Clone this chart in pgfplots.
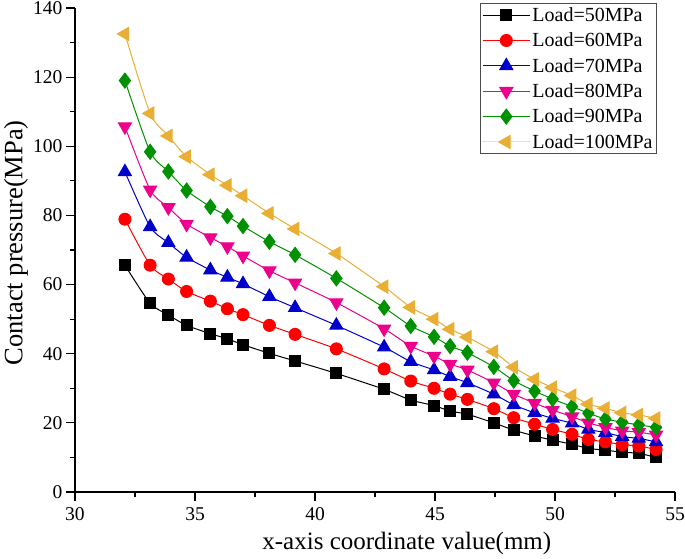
\documentclass[border=0pt]{standalone}
\usepackage{pgfplots}
\pgfplotsset{compat=1.18}
\usepackage{pgfplotstable}
\usepackage{fontspec}
\setmainfont{Liberation Serif}
\definecolor{cblue}{RGB}{0,0,205}
\definecolor{cgreen}{RGB}{0,145,0}
\definecolor{corange}{RGB}{232,175,52}
\pgfplotstableread{
x     a     b     c     d     e     f
32.08 65.6  78.9  92.6  105.7 119.0 132.5
33.13 54.6  65.6  76.7  87.4  98.4  109.5
33.89 51.2  61.6  72.1  82.3  92.7  103.0
34.65 48.2  58.0  67.9  77.5  87.2  97.0
35.64 45.8  55.2  64.2  73.6  82.5  91.8
36.35 44.3  53.0  62.1  71.0  79.8  88.7
37.00 42.6  51.3  60.2  68.3  76.9  85.7
38.10 40.1  48.2  56.5  64.0  72.4  80.6
39.17 37.9  45.6  53.3  60.5  68.6  76.1
40.89 34.3  41.4  48.2  54.8  61.8  69.0
42.88 29.7  35.6  41.9  47.2  53.3  59.4
43.99 26.6  32.1  37.7  42.2  48.0  53.4
44.96 25.0  30.0  35.3  39.3  44.9  50.0
45.63 23.4  28.3  33.4  37.0  42.2  47.1
46.35 22.5  26.8  31.6  35.3  40.3  44.8
47.45 20.0  24.1  28.3  31.6  36.2  40.6
48.28 17.9  21.5  25.2  28.3  32.2  36.1
49.15 16.2  19.6  22.9  25.7  29.2  32.6
49.90 15.0  18.1  21.3  23.7  26.9  30.2
50.71 13.8  16.7  19.9  21.8  24.7  27.9
51.39 12.6  15.2  18.1  20.0  22.8  25.4
52.10 12.1  14.5  17.2  18.7  21.1  24.2
52.80 11.5  13.7  16.0  17.7  20.2  22.9
53.49 11.2  13.3  15.5  17.3  19.4  22.3
54.21 10.0  12.3  14.5  16.5  18.7  21.3
}\data
\begin{document}
\begin{tikzpicture}
\begin{axis}[
  at={(0,0)}, anchor=south west,
  scale only axis, width=600pt, height=484pt,
  xmin=30, xmax=55, ymin=0, ymax=140,
  axis lines=left, axis line style={line width=1.2pt,-},
  xtick={30,35,...,55}, ytick={0,20,...,140},
  minor x tick num=1, minor y tick num=1,
  tick align=outside, tick style={line width=1.2pt, black},
  major tick length=9pt, minor tick length=5pt,
  /pgf/number format/assume math mode=true,
  ticklabel style={font=\fontsize{19.5}{23}\selectfont},
  xticklabel style={yshift=-3pt},
  xlabel={x-axis coordinate value(mm)},
  ylabel={Contact pressure(MPa)},
  xlabel style={font=\fontsize{25}{29}\selectfont, at={(axis description cs:0.553,-0.1064)}, anchor=center},
  ylabel style={font=\fontsize{26.5}{30}\selectfont, at={(axis description cs:-0.0985,0.515)}, anchor=center},
  legend style={at={(0.97,1.0103)}, anchor=north east, draw=black!70, line width=0.8pt,
    font=\fontsize{20}{24}\selectfont, row sep=6pt, inner sep=2pt},
  legend cell align=left,
  legend image code/.code={
    \draw[mark repeat=2,mark phase=2] plot coordinates {(0cm,0cm) (0.83cm,0cm) (1.66cm,0cm)};},
  every axis plot/.append style={line width=1pt, smooth, tension=0.4},
]
\addplot[black, mark=square*, mark size=5.5pt, mark options={solid}] table[x=x,y=a]{\data};
\addlegendentry{Load=50MPa}
\addplot[red, mark=*, mark size=6pt] table[x=x,y=b]{\data};
\addlegendentry{Load=60MPa}
\addplot[cblue, mark=triangle*, mark size=7.5pt] table[x=x,y=c]{\data};
\addlegendentry{Load=70MPa}
\addplot[magenta, mark=triangle*, mark size=7.5pt, mark options={rotate=180}] table[x=x,y=d]{\data};
\addlegendentry{Load=80MPa}
\addplot[cgreen, mark=diamond*, mark size=7.5pt] table[x=x,y=e]{\data};
\addlegendentry{Load=90MPa}
\addplot[corange, mark=triangle*, mark size=7.5pt, mark options={rotate=90}] table[x=x,y=f]{\data};
\addlegendentry{Load=100MPa}
\end{axis}
\pgfresetboundingbox
\path[use as bounding box] (-75pt,-66pt) rectangle (610pt,492pt);
\end{tikzpicture}
\end{document}
